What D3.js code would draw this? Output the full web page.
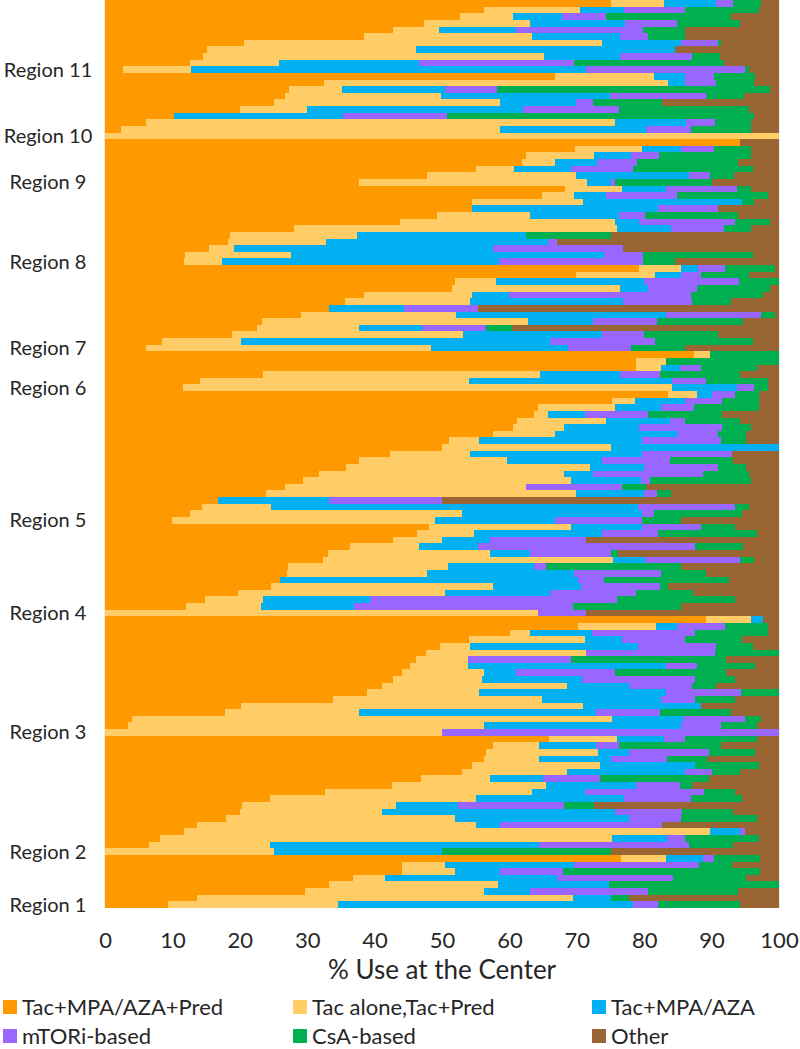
<!DOCTYPE html>
<meta charset="utf-8">
<script src="https://d3js.org/d3.v7.min.js"></script>
<style>
  body { margin: 0; background: #fff; }
  text { font-family: Lato, "Open Sans", sans-serif; fill: #262626; }
</style>
<div id="chart"></div>
<script>
  // series, left to right
  const seriesKeys = ["tacMpaPred", "tacAlone", "tacMpa", "mtori", "csa", "other"];
  const seriesNames = ["Tac+MPA/AZA+Pred", "Tac alone,Tac+Pred", "Tac+MPA/AZA", "mTORi-based", "CsA-based", "Other"];
  const seriesColors = ["#FF9900", "#FFCC66", "#00B0F0", "#9966FF", "#00B050", "#996633"];

  // regions, top to bottom, with number of centers in each
  const regionNames = ["Region 11", "Region 10", "Region 9", "Region 8", "Region 7", "Region 6",
                       "Region 5", "Region 4", "Region 3", "Region 2", "Region 1"];
  const regionCounts = [11, 10, 7, 12, 13, 6, 20, 14, 18, 18, 8];

  const xTicks = [0, 10, 20, 30, 40, 50, 60, 70, 80, 90, 100];

  // % use at each center (one value per center, top to bottom)
  const tacMpaPred = [
    75.1, 56.3, 52.6, 47.4, 42.7, 38.4, 20.6, 15.2, 14.6, 12.6, 2.6,
    66.7, 32.5, 27.3, 26.7, 25.1, 20.1, 10.2, 6.1, 2.3, 0,
    94.2, 69.7, 62.5, 61.8, 55.1, 47.8, 37.7,
    68.3, 64.9, 54.5, 54.5, 49.2, 43.8, 28.0, 18.6, 18.3, 15.4, 11.8, 11.7,
    79.3, 69.9, 51.9, 51.5, 38.5, 35.6, 33.3, 29.1, 23.3, 22.5, 18.8, 8.4, 6.1,
    87.4, 78.8, 78.8, 23.4, 14.1, 11.5,
    83.6, 75.2, 64.3, 63.6, 61.2, 60.5, 57.5, 51.1, 50.0, 42.3, 37.7, 35.7, 31.8, 29.4, 26.7, 23.9, 16.7, 14.4, 12.6, 9.9,
    48.0, 46.3, 42.7, 36.4, 33.1, 32.4, 27.2, 27.0, 25.9, 24.6, 19.8, 14.9, 12.0, 0,
    89.2, 70.2, 60.1, 54.0, 49.7, 47.6, 46.1, 45.2, 44.0, 42.8, 41.1, 38.8, 33.8, 20.2, 17.8, 4.0, 3.4, 0,
    65.9, 57.6, 56.6, 56.2, 54.5, 52.9, 46.9, 42.6, 32.7, 24.5, 20.4, 20.1, 18.0, 13.7, 11.7, 8.1, 6.5, 0,
    76.5, 44.0, 44.0, 36.8, 33.3, 29.6, 13.7, 9.4
  ];
  const tacAlone = [
    7.9, 14.2, 8.0, 15.6, 6.9, 24.9, 53.1, 30.9, 50.6, 13.2, 10.2,
    14.7, 51.0, 7.8, 23.1, 33.5, 9.8, 0, 69.6, 56.3, 100,
    0, 9.9, 10.0, 4.9, 5.6, 22.1, 33.8,
    8.4, 4.7, 16.4, 0, 13.8, 31.9, 47.9, 18.8, 14.5, 3.8, 15.8, 5.6,
    6.1, 11.7, 6.1, 24.9, 15.9, 18.6, 0, 23.0, 39.4, 15.2, 34.3, 11.8, 42.2,
    2.4, 4.5, 3.7, 41.2, 39.9, 72.6,
    4.3, 3.4, 11.4, 2.1, 13.2, 7.6, 9.2, 4.4, 25.0, 11.9, 22.0, 36.3, 36.3, 39.7, 35.8, 46.0, 0, 10.2, 40.3, 39.0,
    21.1, 8.4, 7.3, 10.2, 24.0, 43.0, 23.7, 20.8, 0, 33.0, 30.6, 8.5, 11.2, 64.3,
    6.6, 11.5, 3.0, 17.2, 4.5, 23.7, 7.8, 8.7, 12.2, 13.2, 27.4, 16.7, 31.1, 50.7, 19.9, 71.2, 52.8, 50,
    10.0, 6.8, 16.5, 8.2, 19.0, 15.6, 10.2, 22.9, 30.7, 30.6, 22.8, 21.0, 33.9, 41.4, 78.1, 67.1, 18.0, 25,
    6.7, 6.4, 7.9, 4.8, 25.0, 26.6, 55.7, 25.2
  ];
  const tacMpa = [
    7.6, 6.5, 7.2, 14.2, 11.4, 13.1, 11.7, 38.4, 11.2, 20.8, 58.6,
    4.7, 2.6, 15.4, 25.1, 11.3, 32.1, 25.1, 10.5, 21.7, 0,
    0, 5.8, 5.5, 6.3, 8.4, 16.7, 3.6,
    6.5, 4.7, 23.6, 27.5, 13.2, 3.6, 8.1, 25.1, 32.9, 38.4, 46.5, 41.1,
    2.6, 3.8, 22.0, 4.2, 5.5, 22.7, 11.0, 31.1, 9.7, 9.4, 20.7, 45.8, 20.4,
    0, 0, 2.8, 11.8, 30.1, 9.6,
    2.1, 7.5, 6.8, 5.5, 9.4, 11.2, 18.1, 24.1, 25.0, 25.4, 14.1, 7.9, 4.3, 10.4, 0, 10.0, 16.6, 54.5, 26.7, 17.8,
    10.5, 19.1, 7.1, 8.8, 6.0, 4.7, 12.7, 21.8, 44.3, 13.0, 15.6, 15.9, 13.8, 0,
    1.9, 3.2, 9.1, 5.5, 24.9, 0, 0, 29.3, 4.8, 14.7, 9.2, 27.7, 17.6, 17.6, 35.1, 10.6, 29.2, 0,
    7.1, 8.4, 4.7, 10.7, 14.0, 17.6, 7.9, 13.3, 7.8, 21.9, 9.1, 34.5, 25.8, 3.5, 4.4, 8.2, 39.9, 25,
    5.5, 19.2, 6.7, 25.4, 16.5, 6.9, 5.6, 43.7
  ];
  const mtori = [
    2.6, 9.1, 6.5, 7.6, 18.8, 4.1, 5.5, 0, 10.7, 23.0, 23.6,
    4.2, 4.5, 7.6, 14.3, 2.5, 14.2, 15.4, 4.3, 6.6, 0,
    0, 4.9, 4.2, 6.0, 9.3, 3.2, 0.6,
    10.6, 10.5, 0, 9.0, 3.9, 14.2, 7.9, 0, 1.3, 19.3, 5.7, 21.4,
    4.0, 3.1, 14.0, 7.3, 27.0, 10.2, 11.1, 14.2, 9.5, 9.5, 6.1, 15.6, 9.3,
    0, 0, 3.2, 5.9, 5.1, 2.6,
    3.5, 5.5, 4.9, 9.4, 2.3, 12.3, 6.1, 11.8, 0, 13.5, 10.0, 11.1, 16.3, 1.3, 14.2, 2.0, 16.7, 14.4, 1.8, 12.9,
    8.8, 8.3, 14.2, 32.1, 11.9, 14.1, 1.8, 12.9, 3.9, 11.7, 12.8, 36.6, 32.4, 7.0,
    0, 7.1, 15.3, 9.3, 11.5, 19.2, 15.2, 4.7, 14.7, 16.8, 9.4, 11.2, 5.0, 0, 9.5, 9.2, 6.0, 50,
    3.0, 3.4, 11.8, 8.3, 0, 3.9, 8.5, 6.5, 17.6, 9.9, 15.8, 10.0, 7.7, 24.1, 0.8, 2.7, 22.2, 0,
    1.6, 18.6, 9.4, 17.3, 0, 17.5, 0, 3.8
  ];
  const csa = [
    4.2, 11.0, 18.6, 9.4, 6.3, 5.6, 0.5, 0, 4.2, 22.2, 0.5,
    6.2, 5.7, 40.6, 5.6, 10.3, 19.3, 45.6, 5.4, 8.9, 0,
    0, 5.6, 13.6, 14.9, 17.8, 3.5, 14.3,
    2.0, 13.5, 1.8, 0, 13.8, 5.1, 4.0, 12.5, 0, 0, 16.3, 4.7,
    7.4, 7.0, 6.0, 10.8, 10.8, 5.8, 0, 2.0, 12.7, 3.8, 11.0, 14.5, 8.1,
    10.2, 16.7, 8.3, 11.9, 9.1, 2.1,
    3.6, 5.5, 9.7, 11.0, 8.1, 4.2, 4.2, 3.7, 0, 0, 9.4, 4.1, 6.8, 15.0, 3.6, 2.1, 0, 2.0, 13.1, 5.8,
    5.1, 14.7, 0, 7.1, 1.1, 2.1, 20.0, 6.7, 18.5, 1.2, 8.5, 17.6, 16.0, 0,
    0, 6.4, 10.9, 8.5, 5.5, 9.5, 23.1, 8.5, 16.5, 6.0, 3.5, 5.6, 6.0, 0, 10.6, 2.4, 5.4, 0,
    10.8, 15.2, 6.8, 5.9, 9.6, 4.2, 16.1, 1.8, 4.7, 7.6, 4.5, 7.6, 11.4, 0, 0, 11.0, 6.6, 25,
    6.9, 4.9, 29.2, 10.8, 25.2, 13.3, 2.8, 12.1
  ];
  const other = [
    2.6, 2.9, 7.1, 5.8, 13.9, 13.9, 8.6, 15.5, 8.7, 8.2, 4.5,
    3.5, 3.7, 1.3, 5.2, 17.3, 4.5, 3.7, 4.1, 4.2, 0,
    5.8, 4.1, 4.2, 6.1, 3.8, 6.7, 10.0,
    4.2, 1.7, 3.7, 9.0, 6.1, 1.4, 4.1, 25.0, 33.0, 23.1, 3.9, 15.5,
    0.6, 4.5, 0, 1.3, 2.3, 7.1, 44.6, 0.6, 5.4, 39.6, 9.1, 3.9, 13.9,
    0, 0, 3.2, 5.8, 1.7, 1.6,
    2.9, 2.9, 2.9, 8.4, 5.8, 4.2, 4.9, 4.9, 0, 6.9, 6.8, 4.9, 4.5, 4.2, 19.7, 16.0, 50.0, 4.5, 5.5, 14.6,
    6.5, 3.2, 28.7, 5.4, 23.9, 3.7, 14.6, 10.8, 7.4, 16.5, 12.7, 6.5, 14.6, 28.7,
    2.3, 1.6, 1.6, 5.5, 3.9, 0, 7.8, 3.6, 7.8, 6.5, 9.4, 0, 6.5, 11.5, 7.1, 2.6, 3.2, 0,
    3.2, 8.6, 3.6, 10.7, 2.9, 5.8, 10.4, 12.9, 6.5, 5.5, 27.4, 6.8, 3.2, 17.3, 5.0, 2.9, 6.8, 25,
    2.8, 6.9, 2.8, 4.9, 0, 6.1, 22.2, 5.8
  ];

  const width = 800, height = 1049;
  const plotLeft = 105, plotRight = 779, plotTop = 0, plotBottom = 908;

  const svg = d3.select('#chart')
                .append('svg')
                .attr('width', width)
                .attr('height', height);

  const seriesData = {tacMpaPred, tacAlone, tacMpa, mtori, csa, other};
  const centers = d3.range(tacMpaPred.length);
  const rows = centers.map(i => {
    const r = {id: i};
    seriesKeys.forEach(k => r[k] = seriesData[k][i]);
    return r;
  });

  const x = d3.scaleLinear().domain([0, 100]).range([plotLeft, plotRight]);
  const y = d3.scaleBand().domain(centers).range([plotTop, plotBottom]).padding(0);
  const color = d3.scaleOrdinal().domain(seriesKeys).range(seriesColors);

  // light gridlines behind the bars
  svg.append("g")
    .selectAll("line")
    .data(xTicks)
    .enter()
    .append("line")
    .attr("x1", d => x(d)).attr("x2", d => x(d))
    .attr("y1", plotTop).attr("y2", plotBottom)
    .attr("stroke", "#d9d9d9")
    .attr("stroke-width", 1);

  const stacked = d3.stack().keys(seriesKeys)(rows);

  svg.append("g")
    .attr("shape-rendering", "crispEdges")
    .selectAll("g")
    .data(stacked)
    .enter()
    .append("g")
    .attr("fill", d => color(d.key))
    .selectAll("rect")
    .data(d => d)
    .enter()
    .append("rect")
    .attr("x", d => x(d[0]))
    .attr("y", d => y(d.data.id))
    .attr("width", d => Math.max(0, x(d[1]) - x(d[0])))
    .attr("height", y.bandwidth());

  // region labels sit on the last center of each region
  const lastIdx = d3.cumsum(regionCounts).map(c => c - 1);
  svg.append("g")
    .selectAll("text")
    .data(regionNames)
    .enter()
    .append("text")
    .attr("x", 48)
    .attr("y", (d, i) => y(lastIdx[i]) + y.bandwidth() / 2)
    .attr("dy", "0.35em")
    .attr("text-anchor", "middle")
    .style("font-size", "20px")
    .attr("fill", "#000")
    .text(d => d);

  // x axis
  const xAxis = svg.append("g")
    .attr("transform", `translate(0,${plotBottom})`)
    .call(d3.axisBottom(x).tickValues(xTicks).tickSize(0).tickPadding(24));
  xAxis.select(".domain").remove();
  xAxis.selectAll("text")
    .style("font-size", "22px")
    .style("font-family", "Lato, 'Open Sans', sans-serif")
    .attr("fill", "#595959");

  svg.append("text")
    .attr("x", (plotLeft + plotRight) / 2)
    .attr("y", 970)
    .attr("dy", "0.35em")
    .attr("text-anchor", "middle")
    .style("font-size", "26px")
    .text("% Use at the Center");

  // legend, 3 per row
  const legend = svg.append("g")
    .selectAll("g")
    .data(seriesKeys)
    .enter()
    .append("g")
    .attr("transform", (d, i) => `translate(${[3, 293, 592][i % 3]},${1007 + Math.floor(i / 3) * 29})`);
  legend.append("rect")
    .attr("x", 0).attr("y", -7)
    .attr("width", 14).attr("height", 14)
    .attr("fill", d => color(d));
  legend.append("text")
    .attr("x", 19)
    .attr("dy", "0.35em")
    .style("font-size", "22px")
    .text((d, i) => seriesNames[i]);
</script>
